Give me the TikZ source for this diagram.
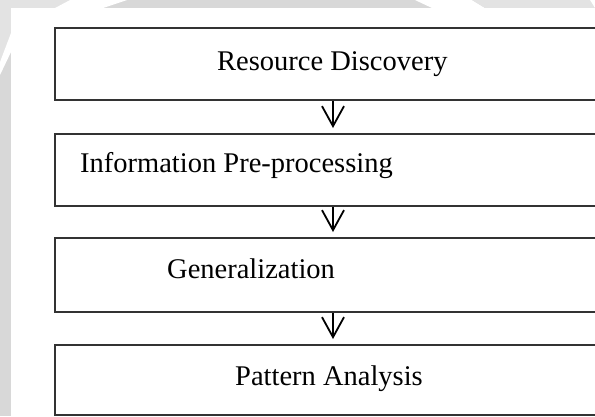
\documentclass[tikz,border=0pt]{standalone}
\usepackage{fontspec}
\setmainfont{Liberation Serif}
\usetikzlibrary{arrows.meta}
\definecolor{bandgray}{HTML}{D8D8D8}
\definecolor{bandlight}{HTML}{E3E3E3}
\definecolor{linegray}{HTML}{333333}
\tikzset{
  box/.style={draw=linegray, line width=2pt, rectangle, minimum width=580pt, inner sep=0pt, anchor=north west},
  lbl/.style={anchor=base west, inner sep=0pt, font=\fontsize{28.5}{30}\selectfont, text=black},
  flow/.style={draw=black, line width=1.8pt, -{Straight Barb[length=20pt,width=22pt,line width=1.8pt]}}
}
\begin{document}
\begin{tikzpicture}[x=1pt,y=-1pt]
\useasboundingbox (0,0) rectangle (595,416);
\clip (0,0) rectangle (595,416);
% background watermark bands
\fill[bandgray] (0,0) rectangle (595,416);
\fill[bandlight] (0,0) -- (70,0) -- (55,8) -- (11,8) -- (11,40) -- (0,62) -- cycle;
\fill[white] (70,0) -- (127,0) -- (103,8) -- (55,8) -- cycle;
\fill[white] (415,0) -- (472,0) -- (485,8) -- (432,8) -- cycle;
\fill[bandlight] (472,0) -- (590,0) -- (595,8) -- (485,8) -- cycle;
\fill[white] (590,0) -- (595,0) -- (595,8) -- cycle;
\fill[white] (0,62) -- (11,33) -- (11,52) -- (0,75) -- cycle;
\fill[white] (11,8) rectangle (595,416);
% boxes
\node[box, minimum height=72pt] (b1) at (54,27) {};
\node[box, minimum height=72pt] (b2) at (54,133) {};
\node[box, minimum height=74pt] (b3) at (54,237) {};
\node[box, minimum height=70pt] (b4) at (54,344) {};
% labels
\node[lbl] (t1) at (217,70) {Resource Discovery};
\node[lbl] (t2) at (80,172) {Information Pre-processing};
\node[lbl] (t3) at (167,278) {Generalization};
\node[lbl] (t4) at (235,385) {Pattern Analysis};
% arrows
\coordinate (ax) at (333,0);
\draw[flow] (b1.south -| ax) -- ([yshift=5pt]b2.north -| ax);
\draw[flow] (b2.south -| ax) -- ([yshift=5pt]b3.north -| ax);
\draw[flow] (b3.south -| ax) -- ([yshift=5pt]b4.north -| ax);
\end{tikzpicture}
\end{document}
